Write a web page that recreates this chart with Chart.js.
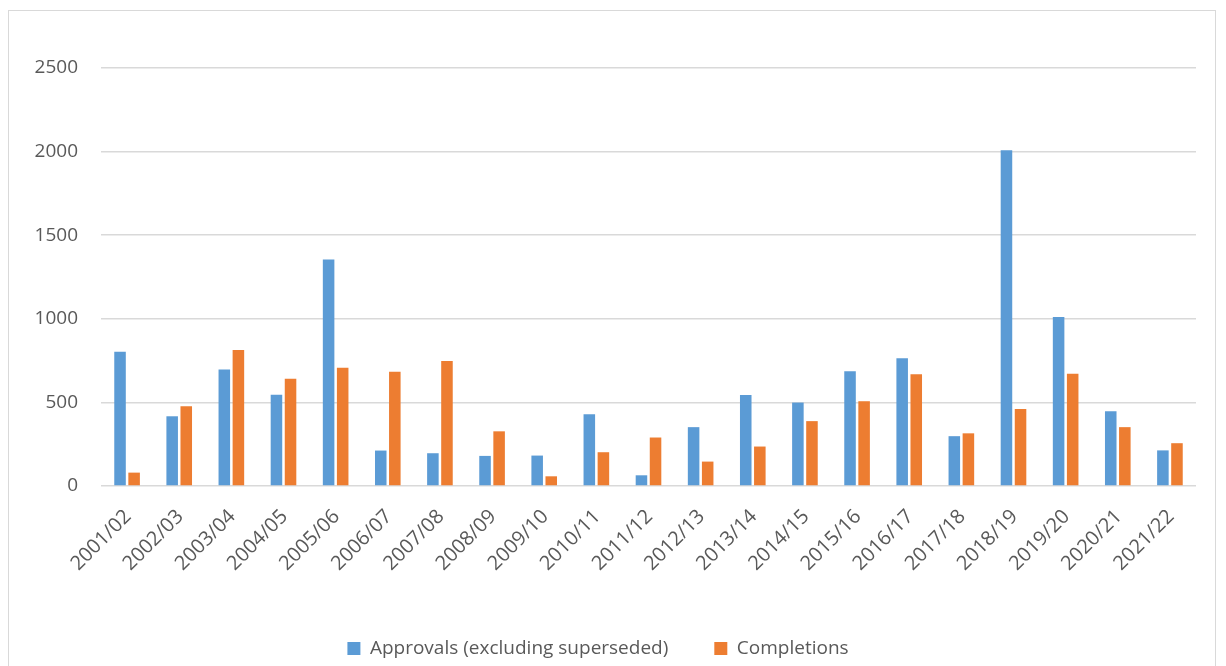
<!DOCTYPE html>
<html>
<head>
<meta charset="utf-8">
<script src="https://cdn.jsdelivr.net/npm/chart.js@4/dist/chart.umd.min.js"></script>
<style>
  html, body { margin: 0; padding: 0; background: #fff; overflow: hidden; }
  #frame { position: absolute; left: 8px; top: 10px; width: 1208px; height: 700px; border: 1px solid #d9d9d9; box-sizing: border-box; }
  #wrap { position: absolute; left: 0; top: 0; width: 1226px; height: 666px; }
</style>
</head>
<body>
<div id="frame"></div>
<div id="wrap"><canvas id="c" width="1226" height="666"></canvas></div>
<script>
const categories = ['2001/02','2002/03','2003/04','2004/05','2005/06','2006/07','2007/08','2008/09','2009/10','2010/11','2011/12','2012/13','2013/14','2014/15','2015/16','2016/17','2017/18','2018/19','2019/20','2020/21','2021/22'];
const approvals = [803, 417, 697, 546, 1355, 212, 196, 180, 182, 429, 64, 352, 545, 499, 686, 764, 298, 2008, 1011, 447, 213];
const completions = [80, 477, 813, 641, 707, 683, 747, 327, 58, 202, 290, 146, 236, 388, 507, 669, 315, 460, 671, 352, 256];
const yTicks = [0, 500, 1000, 1500, 2000, 2500];

const textColor = '#595959';
const fontFamily = "'Open Sans', 'Liberation Sans', sans-serif";

new Chart(document.getElementById('c'), {
  type: 'bar',
  data: {
    labels: categories,
    datasets: [
      { label: 'Approvals (excluding superseded)', data: approvals, backgroundColor: '#5B9BD5', borderWidth: 0 },
      { label: 'Completions', data: completions, backgroundColor: '#ED7D31', borderWidth: 0 }
    ]
  },
  options: {
    responsive: false,
    animation: false,
    devicePixelRatio: 1,
    categoryPercentage: 0.54,
    barPercentage: 0.82,
    layout: { padding: { top: 68, right: 30, bottom: 0, left: 0 } },
    plugins: {
      tooltip: { enabled: false },
      legend: {
        position: 'bottom',
        maxHeight: 73,
        labels: {
          color: textColor,
          font: { family: fontFamily, size: 19 },
          boxWidth: 13,
          boxHeight: 13,
          padding: 46
        }
      }
    },
    scales: {
      x: {
        grid: { display: false },
        border: { display: false },
        ticks: {
          color: textColor,
          font: { family: fontFamily, size: 20 },
          maxRotation: 45,
          minRotation: 45,
          labelOffset: 1,
          padding: 11
        },
        afterFit: (s) => { s.height = 107; }
      },
      y: {
        min: 0,
        max: 2500,
        afterBuildTicks: (s) => { s.ticks = yTicks.map(v => ({ value: v })); },
        grid: { color: '#d9d9d9', lineWidth: 1.5, drawTicks: false },
        border: { display: false },
        ticks: {
          color: textColor,
          font: { family: fontFamily, size: 19 },
          padding: 23,
          callback: (v) => String(v)
        },
        afterFit: (s) => { s.width = 101; }
      }
    }
  }
});
</script>
</body>
</html>
